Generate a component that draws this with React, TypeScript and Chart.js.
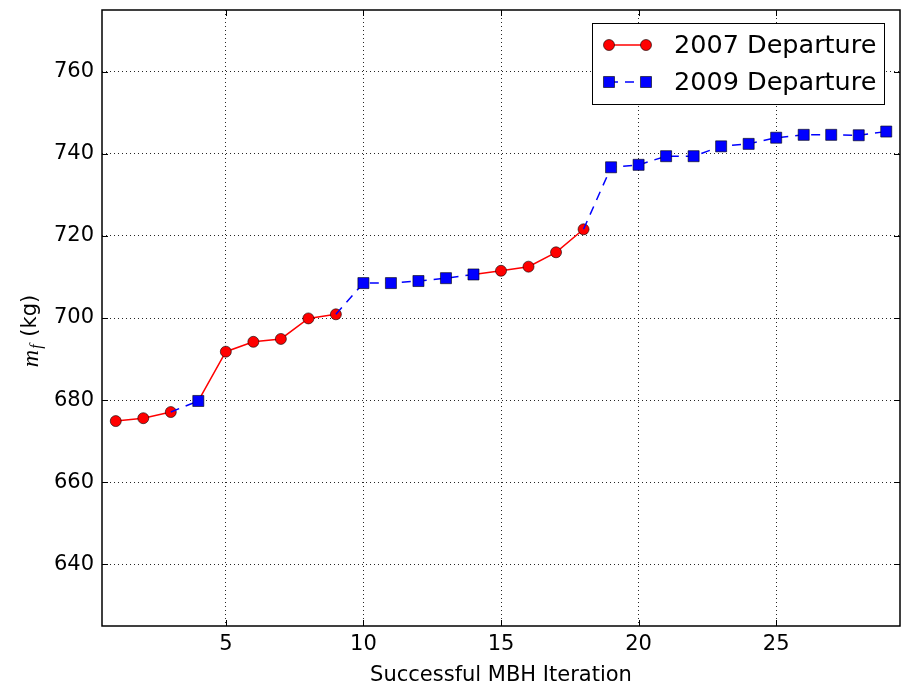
import React, { useEffect, useRef } from 'react';
import { Chart, registerables } from 'chart.js';

Chart.register(...registerables);

const iterations = [1, 2, 3, 4, 5, 6, 7, 8, 9, 10, 11, 12, 13, 14, 15, 16, 17, 18, 19, 20, 21, 22, 23, 24, 25, 26, 27, 28, 29];
const massKg = [674.9, 675.6, 677.1, 679.8, 691.8, 694.2, 694.9, 699.9, 700.9, 708.5, 708.5, 709.0, 709.7, 710.6, 711.5, 712.5, 716.0, 721.6, 736.7, 737.3, 739.4, 739.4, 741.8, 742.4, 743.9, 744.6, 744.6, 744.5, 745.4];
const departure = ['2007', '2007', '2007', '2009', '2007', '2007', '2007', '2007', '2007', '2009', '2009', '2009', '2009', '2009', '2007', '2007', '2007', '2007', '2009', '2009', '2009', '2009', '2009', '2009', '2009', '2009', '2009', '2009', '2009'];
const seriesKeys = ['2007', '2009'];
const seriesLabels = ['2007 Departure', '2009 Departure'];
const xTicks = [5, 10, 15, 20, 25];
const yTicks = [640, 660, 680, 700, 720, 740, 760];
const xRange = [0.5, 29.5];
const yRange = [625, 775];
const xTitle = 'Successful MBH Iteration';

const styles = [
  { color: '#ff0000', pointStyle: 'circle', radius: 5.5, dash: [] as number[] },
  { color: '#0000ff', pointStyle: 'rect', radius: 7.8, dash: [9, 7] },
];

function buildDataset(si: number) {
  const key = seriesKeys[si];
  const st = styles[si];
  const n = iterations.length;
  const data = iterations.map((x, i) => {
    const own = departure[i] === key;
    const startsOwn = i + 1 < n && departure[i + 1] === key;
    return { x, y: own || startsOwn ? massKg[i] : null };
  });
  const radii = iterations.map((_, i) => (departure[i] === key ? st.radius : 0));
  return {
    label: seriesLabels[si],
    data,
    borderColor: st.color,
    backgroundColor: st.color,
    borderWidth: 1.5,
    borderDash: st.dash,
    pointStyle: st.pointStyle,
    pointRadius: radii,
    pointBackgroundColor: st.color,
    pointBorderColor: '#000',
    pointBorderWidth: 0.6,
    spanGaps: false,
    tension: 0,
    order: 1 - si,
    segment: {
      borderColor: (ctx: any) => (departure[ctx.p1DataIndex] === key ? st.color : 'rgba(0,0,0,0)'),
    },
  };
}

const framePlugin = {
  id: 'frameTicks',
  afterDatasetsDraw(chart: any) {
    const { ctx, chartArea: a, scales } = chart;
    ctx.save();
    ctx.strokeStyle = '#000';
    ctx.lineWidth = 1;
    ctx.setLineDash([]);
    const L = 6;
    ctx.beginPath();
    for (const v of xTicks) {
      const px = Math.round(scales.x.getPixelForValue(v)) + 0.5;
      ctx.moveTo(px, a.bottom);
      ctx.lineTo(px, a.bottom - L);
      ctx.moveTo(px, a.top);
      ctx.lineTo(px, a.top + L);
    }
    for (const v of yTicks) {
      const py = Math.round(scales.y.getPixelForValue(v)) + 0.5;
      ctx.moveTo(a.left, py);
      ctx.lineTo(a.left + L, py);
      ctx.moveTo(a.right, py);
      ctx.lineTo(a.right - L, py);
    }
    ctx.stroke();
    ctx.lineWidth = 1.5;
    ctx.strokeRect(a.left, a.top, a.right - a.left, a.bottom - a.top);
    ctx.restore();
  },
  afterDraw(chart: any) {
    const { ctx } = chart;
    ctx.save();
    // legend
    const bx = 592.5, by = 23.5, bw = 292, bh = 81;
    ctx.fillStyle = '#fff';
    ctx.fillRect(bx, by, bw, bh);
    ctx.strokeStyle = '#000';
    ctx.lineWidth = 1;
    ctx.setLineDash([]);
    ctx.strokeRect(bx, by, bw, bh);
    const rows = [45, 82];
    const hx1 = 609, hx2 = 646, tx = 674;
    seriesLabels.forEach((label, si) => {
      const st = styles[si];
      const y = rows[si];
      ctx.strokeStyle = st.color;
      ctx.lineWidth = 1.5;
      ctx.setLineDash(st.dash);
      ctx.beginPath();
      ctx.moveTo(hx1, y);
      ctx.lineTo(hx2, y);
      ctx.stroke();
      ctx.setLineDash([]);
      for (const mx of [hx1, hx2]) {
        ctx.fillStyle = st.color;
        ctx.strokeStyle = '#000';
        ctx.lineWidth = 0.6;
        ctx.beginPath();
        if (st.pointStyle === 'circle') {
          ctx.arc(mx, y, st.radius, 0, Math.PI * 2);
        } else {
          const s = st.radius * Math.SQRT1_2;
          ctx.rect(mx - s, y - s, 2 * s, 2 * s);
        }
        ctx.fill();
        ctx.stroke();
      }
      ctx.fillStyle = '#000';
      ctx.font = '25.5px "DejaVu Sans"';
      ctx.textAlign = 'left';
      ctx.textBaseline = 'middle';
      ctx.fillText(label, tx, y + 1);
    });
    // y axis title: m_f (kg)
    ctx.translate(31, 331);
    ctx.rotate(-Math.PI / 2);
    ctx.textBaseline = 'middle';
    ctx.textAlign = 'left';
    ctx.fillStyle = '#000';
    const fM = 'italic 24px "Liberation Serif"';
    const fS = 'italic 16px "Liberation Serif"';
    const fK = '21px "DejaVu Sans"';
    ctx.font = fM; const wM = ctx.measureText('m').width;
    ctx.font = fS; const wS = ctx.measureText('f').width + 2;
    ctx.font = fK; const wK = ctx.measureText(' (kg)').width;
    let x0 = -(wM + wS + wK) / 2;
    ctx.font = fM; ctx.fillText('m', x0, 1); x0 += wM;
    ctx.font = fS; ctx.fillText('f', x0 + 1, 6); x0 += wS;
    ctx.font = fK; ctx.fillText(' (kg)', x0, 0);
    ctx.restore();
  },
};

export default function App() {
  const ref = useRef<HTMLCanvasElement | null>(null);
  useEffect(() => {
    if (!ref.current) return;
    const chart = new Chart(ref.current, {
      type: 'line',
      data: { datasets: [buildDataset(0), buildDataset(1)] as any },
      options: {
        animation: false,
        responsive: false,
        devicePixelRatio: 1,
        events: [],
        layout: { autoPadding: false, padding: { top: 10, right: 3, left: 0, bottom: 0 } },
        plugins: { legend: { display: false }, tooltip: { enabled: false } },
        scales: {
          x: {
            type: 'linear',
            min: xRange[0],
            max: xRange[1],
            afterBuildTicks: (s: any) => { s.ticks = xTicks.map((v) => ({ value: v })); },
            afterFit: (s: any) => { s.height = 59; s.paddingLeft = 0; s.paddingRight = 0; },
            ticks: { autoSkip: false, maxRotation: 0, padding: 6, color: '#000', font: { family: 'DejaVu Sans', size: 21 } },
            grid: { color: 'rgba(0,0,0,0.85)', lineWidth: 1, drawTicks: false },
            border: { display: false, dash: [1, 3] },
            title: { display: true, text: xTitle, color: '#000', font: { family: 'DejaVu Sans', size: 21, lineHeight: 0.9 }, padding: { top: 0, bottom: 0 } },
          },
          y: {
            type: 'linear',
            min: yRange[0],
            max: yRange[1],
            afterBuildTicks: (s: any) => { s.ticks = yTicks.map((v) => ({ value: v })); },
            afterFit: (s: any) => { s.width = 102; s.paddingTop = 0; s.paddingBottom = 0; },
            ticks: { autoSkip: false, padding: 8, color: '#000', font: { family: 'DejaVu Sans', size: 21 } },
            grid: { color: 'rgba(0,0,0,0.85)', lineWidth: 1, drawTicks: false },
            border: { display: false, dash: [1, 3] },
          },
        },
      },
      plugins: [framePlugin],
    });
    return () => chart.destroy();
  }, []);
  return (
    <div style={{ position: 'fixed', left: 0, top: 0, width: 903, height: 685, background: '#fff' }}>
      <canvas ref={ref} width={903} height={685} style={{ display: 'block' }} />
    </div>
  );
}
